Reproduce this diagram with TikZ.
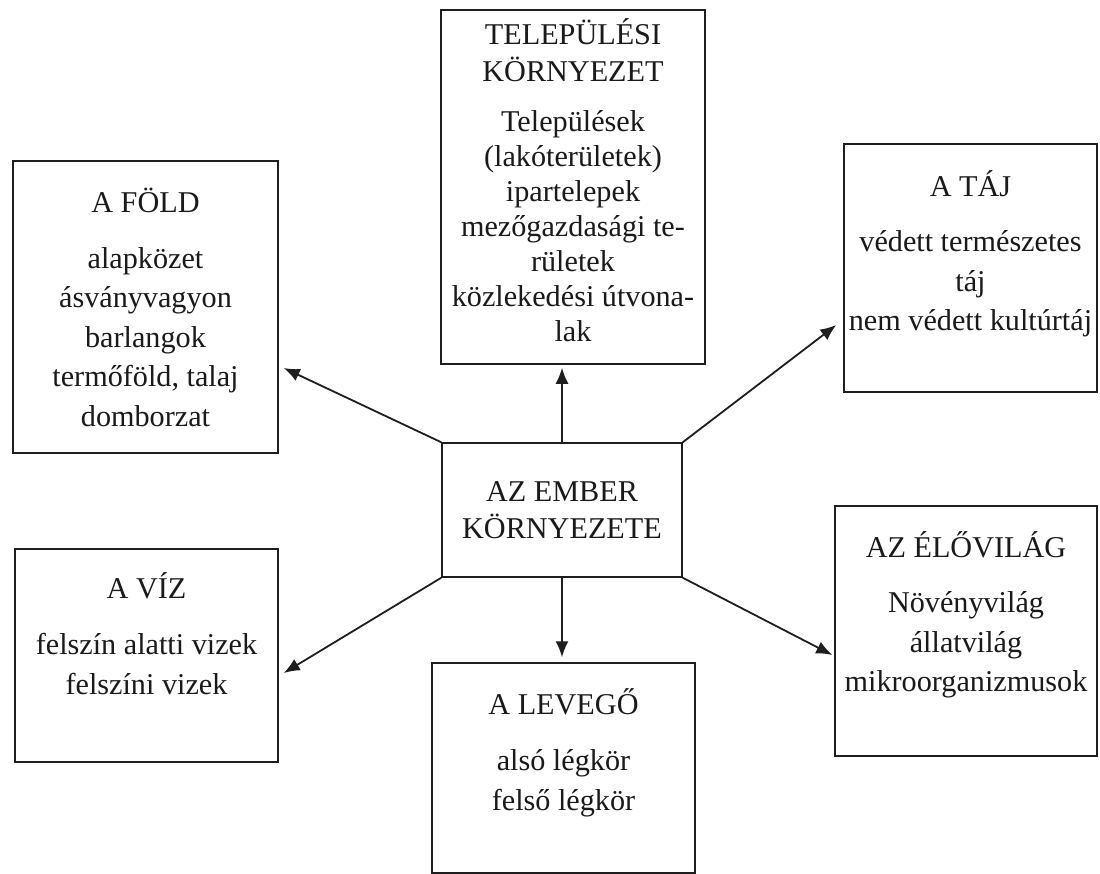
\documentclass[tikz,border=0pt]{standalone}
\usepackage{fontspec}
\setmainfont{Liberation Serif}
\usepackage{tikz}
\usetikzlibrary{arrows.meta,positioning,calc}
\definecolor{boxline}{HTML}{1E1E1E}
\definecolor{boxtextcolor}{HTML}{1A1A1A}

\begin{document}
\begin{tikzpicture}[
    x=0.5pt, y=-0.5pt,
    box/.style={
        draw=boxline,
        line width=0.75pt,
        inner sep=0pt,
        fill=white
    },
    boxtext/.style={
        anchor=base,
        align=center,
        inner sep=0pt,
        text=boxtextcolor,
        font={\fontsize{15.1}{19.75}\selectfont}
    },
    arrow/.style={-{Latex[length=8pt,width=6.5pt]}, line width=0.9pt, draw=boxline}
]
    \useasboundingbox[fill=white] (0,0) rectangle (1100,874);

    % boxes
    \node[box, minimum width=132pt, minimum height=177pt] (telep) at (573,187) {};
    \node[box, minimum width=132.5pt, minimum height=146pt] (fold) at (145.5,307) {};
    \node[box, minimum width=126.5pt, minimum height=124pt] (taj) at (970.5,268) {};
    \node[box, minimum width=131.5pt, minimum height=106.5pt] (viz) at (146.5,655.5) {};
    \node[box, minimum width=131.5pt, minimum height=105pt] (levego) at (563.5,768) {};
    \node[box, minimum width=131pt, minimum height=125pt] (elo) at (966,631) {};
    \node[box, minimum width=120pt, minimum height=67pt, align=center,
        text=boxtextcolor, font={\fontsize{15.1}{18.5}\selectfont}]
        (ember) at (562,510) {AZ EMBER\\KÖRNYEZETE};

    % texts (base = last line)
    \node[boxtext, font={\fontsize{15.1}{17.5}\selectfont}] (teleptext)
        at ([yshift=-166pt]telep.north) {TELEPÜLÉSI\\[1pt]KÖRNYEZET\\[7.5pt]
        Települések\\(lakóterületek)\\ipartelepek\\mezőgazdasági te-\\
        rületek\\közlekedési útvona-\\lak};
    \node[boxtext] (foldtext) at ([yshift=-133pt]fold.north) {A FÖLD\\[8.25pt]
        alapközet\\ásványvagyon\\barlangok\\termőföld, talaj\\domborzat};
    \node[boxtext] (tajtext) at ([yshift=-93.75pt]taj.north) {A TÁJ\\[8pt]
        védett természetes\\táj\\nem védett kultúrtáj};
    \node[boxtext] (viztext) at ([yshift=-73pt]viz.north) {A VÍZ\\[8.25pt]
        felszín alatti vizek\\felszíni vizek};
    \node[boxtext] (levegotext) at ([yshift=-74pt]levego.north) {A LEVEGŐ\\[8.5pt]
        alsó légkör\\felső légkör};
    \node[boxtext] (elotext) at ([yshift=-93.25pt]elo.north) {AZ ÉLŐVILÁG\\[8pt]
        Növényvilág\\állatvilág\\mikroorganizmusok};

    % arrows
    \draw[arrow] (ember.north west) -- ($(fold.east)+(5,61)$);
    \draw[arrow] (ember.north) -- ([yshift=-1.5pt]ember.north |- telep.south);
    \draw[arrow] (ember.north east) -- ($(taj.west)+(-7,57)$);
    \draw[arrow] (ember.south west) -- ($(viz.east)+(5,17.5)$);
    \draw[arrow] (ember.south) -- ([yshift=2.5pt]ember.south |- levego.north);
    \draw[arrow] (ember.south east) -- ($(elo.west)+(-2,24)$);
\end{tikzpicture}
\end{document}
